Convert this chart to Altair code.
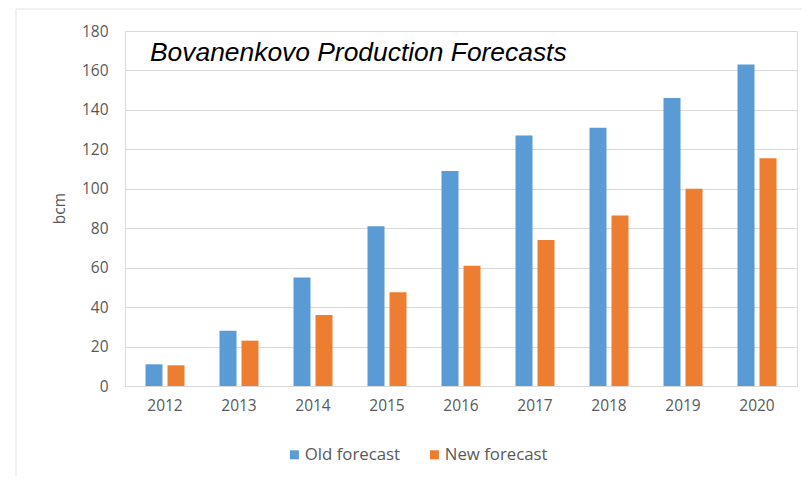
import altair as alt
import pandas as pd

years = ["2012", "2013", "2014", "2015", "2016", "2017", "2018", "2019", "2020"]
old_forecast = [11, 28, 55, 81, 109, 127, 131, 146, 163]
new_forecast = [10.5, 23, 36, 47.5, 61, 74, 86.5, 100, 115.5]
series = ["Old forecast", "New forecast"]
colors = ["#5B9BD5", "#ED7D31"]
title_text = "Bovanenkovo Production Forecasts"

rows = []
for i, y in enumerate(years):
    rows.append({"year": y, "series": series[0], "value": old_forecast[i]})
    rows.append({"year": y, "series": series[1], "value": new_forecast[i]})
df = pd.DataFrame(rows)

label_font = "Open Sans"
gray = "#595959"

bars = alt.Chart(df).mark_bar().encode(
    x=alt.X("year:N", sort=years,
            scale=alt.Scale(paddingInner=0.473, paddingOuter=0.277),
            axis=alt.Axis(title=None, labelAngle=0, labelFontSize=15.5, labelColor=gray,
                          labelFont=label_font, labelPadding=12, domain=False,
                          ticks=False, grid=False)),
    xOffset=alt.XOffset("series:N", sort=series,
                        scale=alt.Scale(domain=series, paddingInner=0.227)),
    y=alt.Y("value:Q",
            scale=alt.Scale(domain=[0, 180], nice=False),
            axis=alt.Axis(values=list(range(0, 181, 20)), title="bcm",
                          titleFont=label_font, titleFontSize=15.5, titleColor=gray,
                          titleFontWeight="normal", titleAngle=270,
                          titleX=-66, titleY=177, titleAlign="center",
                          titleBaseline="middle",
                          labelFont=label_font, labelFontSize=15.5, labelColor=gray,
                          labelPadding=17, domain=False, ticks=False,
                          gridColor="#d9d9d9", gridWidth=1)),
    color=alt.Color("series:N", sort=series,
                    scale=alt.Scale(domain=series, range=colors),
                    legend=alt.Legend(title=None, orient="none", legendX=161, legendY=415,
                                      direction="horizontal", symbolType="square",
                                      symbolSize=81, symbolStrokeWidth=0,
                                      labelFont=label_font, labelFontSize=16.8,
                                      labelColor=gray, columnPadding=25, labelOffset=2)),
)

title_df = pd.DataFrame({"t": [title_text]})
title = alt.Chart(title_df).mark_text(
    align="left", baseline="alphabetic", font="Liberation Sans",
    fontStyle="italic", fontSize=26.4, color="#000000"
).encode(text="t:N", x=alt.value(25), y=alt.value(30))

frame = alt.Chart(pd.DataFrame({"f": [0]})).mark_rect(
    fillOpacity=0, stroke="#e3e3e3", strokeWidth=1
).encode(x=alt.value(-109), x2=alt.value(700), y=alt.value(-22), y2=alt.value(452))

chart = alt.layer(frame, bars, title).properties(
    width=672, height=355,
    autosize=alt.AutoSizeParams(type="none"),
    padding={"left": 117, "top": 23, "right": 5, "bottom": 90},
).configure_view(strokeOpacity=0).configure(background="white")

chart.save("out.html", embed_options={"renderer": "svg", "actions": False})
